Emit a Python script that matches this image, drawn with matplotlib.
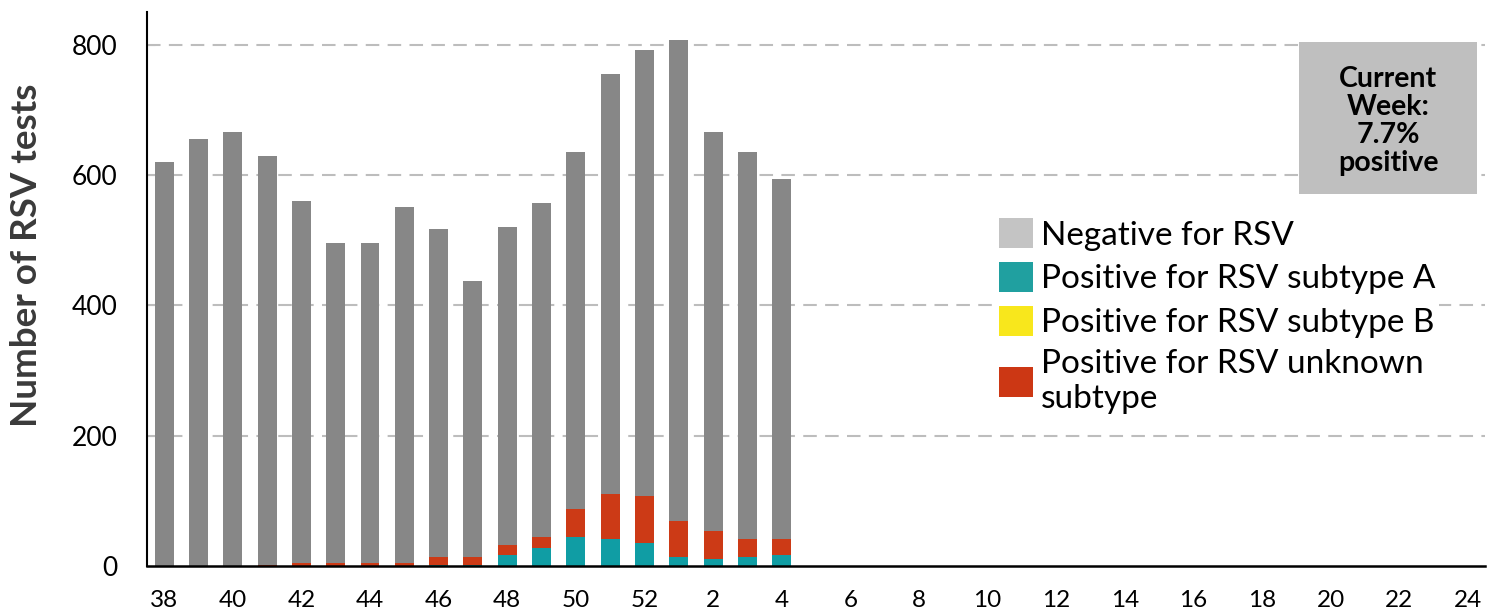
import matplotlib.pyplot as plt
from matplotlib.patches import Patch
import numpy as np

plt.rcParams["font.family"] = ["Lato", "DejaVu Sans"]

weeks = [str(w) for w in list(range(38, 53)) + list(range(1, 25))]

total_tests = [620, 656, 666, 629, 561, 496, 496, 552, 518, 438,
               521, 558, 635, 755, 792, 807, 666, 635, 595]
pos_a = [0, 0, 0, 0, 0, 0, 0, 0, 2, 2,
         17, 27, 45, 42, 36, 14, 11, 14, 17]
pos_b = [0] * 19
pos_unknown = [0, 0, 0, 2, 5, 5, 5, 5, 12, 12,
               15, 18, 43, 68, 71, 55, 43, 28, 25]

total_tests = np.array(total_tests)
pos_a = np.array(pos_a)
pos_b = np.array(pos_b)
pos_unknown = np.array(pos_unknown)
negative = total_tests - pos_a - pos_b - pos_unknown

fig = plt.figure(figsize=(15, 6.13), dpi=100)
ax = fig.add_axes([0.098, 0.0767, 0.892, 0.903])

x = np.arange(len(total_tests))
w = 0.55
ax.bar(x, pos_a, w, color="#109da4", zorder=2)
ax.bar(x, pos_b, w, bottom=pos_a, color="#f8e71c", zorder=2)
ax.bar(x, pos_unknown, w, bottom=pos_a + pos_b, color="#cc3a16", zorder=2)
ax.bar(x, negative, w, bottom=pos_a + pos_b + pos_unknown, color="#878787", zorder=2)

ax.set_xlim(-0.5, len(weeks) - 0.5)
ax.set_ylim(0, 850)
ax.set_xticks(range(0, len(weeks), 2))
ax.set_xticklabels(weeks[::2])
ax.set_yticks([0, 200, 400, 600, 800])

for y in [200, 400, 600, 800]:
    ax.axhline(y, color="#bdbdbd", linestyle=(0, (6.5, 4)), linewidth=1.5, zorder=1)

for s in ["top", "right"]:
    ax.spines[s].set_visible(False)
ax.spines["left"].set_linewidth(1.5)
ax.spines["bottom"].set_linewidth(1.8)

ax.tick_params(axis="x", length=0, pad=17, labelsize=17.5)
ax.tick_params(axis="y", direction="in", length=6, color="#bdbdbd",
               pad=21, labelsize=19)

fig.text(27 / 1500, 1 - 255 / 613, "Number of RSV tests", rotation=90,
         ha="center", va="center", fontsize=26.5, fontweight="bold", color="#3a3a3a")

# current week box
box = plt.Rectangle((1299 / 1500, 1 - 194 / 613), 178 / 1500, 152 / 613,
                    transform=fig.transFigure, facecolor="#bfbfbf",
                    edgecolor="none", zorder=3)
box.set_clip_on(False)
ax.add_artist(box)
fig.text(1388 / 1500, 1 - 121 / 613, "Current\nWeek:\n7.7%\npositive",
         ha="center", va="center", fontsize=20.5, fontweight="bold",
         linespacing=1.1, zorder=4)

handles = [
    Patch(facecolor="#c4c4c4", label="Negative for RSV"),
    Patch(facecolor="#20a0a0", label="Positive for RSV subtype A"),
    Patch(facecolor="#f8e71c", label="Positive for RSV subtype B"),
    Patch(facecolor="#cc3714", label="Positive for RSV unknown\nsubtype"),
]
leg = ax.legend(handles=handles, loc="upper left",
                bbox_to_anchor=(996 / 1500, 1 - 215 / 613),
                bbox_transform=fig.transFigure,
                frameon=True, fontsize=24, handlelength=1.0, handleheight=1.0,
                handletextpad=0.25, labelspacing=0.34, borderpad=0.1,
                borderaxespad=0)
leg.get_frame().set_facecolor("white")
leg.get_frame().set_edgecolor("none")
leg.get_frame().set_alpha(1)
leg.set_zorder(5)

fig.savefig("out.png", dpi=100)
